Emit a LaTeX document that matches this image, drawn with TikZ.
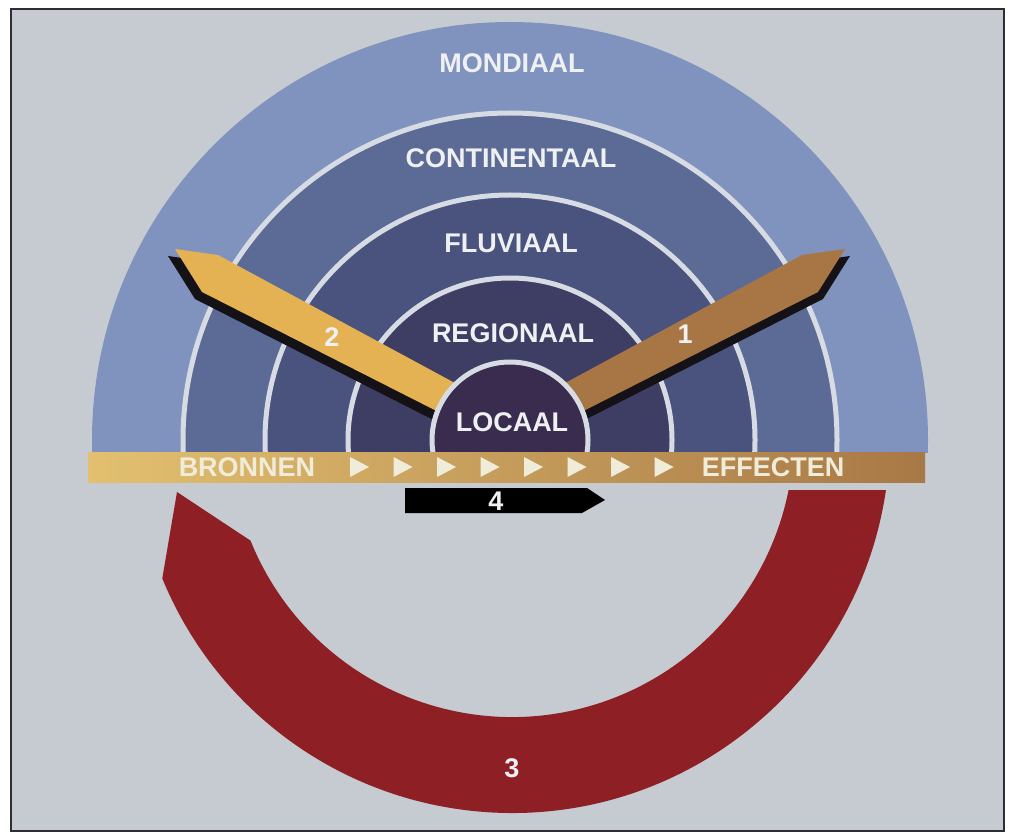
\documentclass[tikz,border=0pt]{standalone}
\usepackage{fontspec}
\setmainfont{Liberation Sans}
\definecolor{bggrey}{RGB}{198,203,210}
\definecolor{framec}{RGB}{45,45,50}
\definecolor{ringA}{RGB}{128,147,190}
\definecolor{ringB}{RGB}{92,106,150}
\definecolor{ringC}{RGB}{74,82,126}
\definecolor{ringD}{RGB}{62,62,100}
\definecolor{ringE}{RGB}{58,44,78}
\definecolor{ringline}{RGB}{215,220,228}
\definecolor{labwhite}{RGB}{238,240,242}
\definecolor{bartext}{RGB}{240,236,218}
\definecolor{barleft}{RGB}{226,192,112}
\definecolor{barright}{RGB}{168,120,70}
\definecolor{goldarrow}{RGB}{228,178,82}
\definecolor{brownarrow}{RGB}{168,118,68}
\definecolor{redband}{RGB}{142,32,37}
\definecolor{shadowc}{RGB}{20,18,22}
\begin{document}
\begin{tikzpicture}[x=1pt,y=-1pt,
  lab/.style={font=\bfseries\fontsize{27}{27}\selectfont, text=labwhite, inner sep=0pt},
  bartxt/.style={font=\bfseries\fontsize{27}{27}\selectfont, text=bartext, inner sep=0pt},
  ring/.style={draw=ringline, line width=5}]
\useasboundingbox (0,0) rectangle (1012,834);
\fill[white] (0,0) rectangle (1012,834);
\filldraw[fill=bggrey, draw=framec, line width=2] (11,9) rectangle (1004,831);

% rings
\begin{scope}
  \clip (0,0) rectangle (1012,452);
  \fill[ringA] (510,440) circle[radius=418];
  \filldraw[fill=ringB, ring] (510,440) circle[radius=327];
  \filldraw[fill=ringC, ring] (510,440) circle[radius=245];
  \filldraw[fill=ringD, ring] (510,440) circle[radius=162];
  % arrow 2 (left, gold) with shadow
  \fill[shadowc, shift={(-7,7)}] (175,249) -- (218,255) -- (490,402) -- (472,429) -- (202,292) -- cycle;
  \fill[goldarrow] (175,249) -- (218,255) -- (490,402) -- (472,429) -- (202,292) -- cycle;
  % arrow 1 (right, brown) with shadow
  \fill[shadowc, shift={(5,7)}] (845,249) -- (802,255) -- (530,402) -- (548,429) -- (818,292) -- cycle;
  \fill[brownarrow] (845,249) -- (802,255) -- (530,402) -- (548,429) -- (818,292) -- cycle;
  \filldraw[fill=ringE, ring] (510,440) circle[radius=78];
\end{scope}

\node[lab] (mondiaal) at (512,63) {MONDIAAL};
\node[lab] (continentaal) at (511,158) {CONTINENTAAL};
\node[lab] (fluviaal) at (511,243) {FLUVIAAL};
\node[lab] (regionaal) at (513,333) {REGIONAAL};
\node[lab] (locaal) at (512,422) {LOCAAL};
\node[lab] (two) at (332,337) {2};
\node[lab] (one) at (685,334) {1};

% bar
\shade[left color=barleft, right color=barright] (88,452) rectangle (925,482);
\node[bartxt] (bronnen) at (247,467) {BRONNEN};
\node[bartxt] (effecten) at (773,467) {EFFECTEN};
\foreach \t in {359,402.5,446,489.5,533,576.5,620,663.5}
  \fill[bartext] (\t-9,457) -- (\t+10,467) -- (\t-9,477) -- cycle;

% arrow 4
\fill[black] (405,488) -- (587,488) -- (605,500) -- (582,513) -- (405,513) -- cycle;
\node[lab] (four) at (496,501) {4};

% red band 3
\fill[redband] (177,492) -- ([shift={(512,435)}]158:282)
  arc[start angle=158, end angle=11.25, radius=282]
  -- ([shift={(512,435)}]8.37:378)
  arc[start angle=8.37, end angle=157.7, radius=378] -- cycle;
\node[lab] (three) at (512,768) {3};
\end{tikzpicture}
\end{document}
